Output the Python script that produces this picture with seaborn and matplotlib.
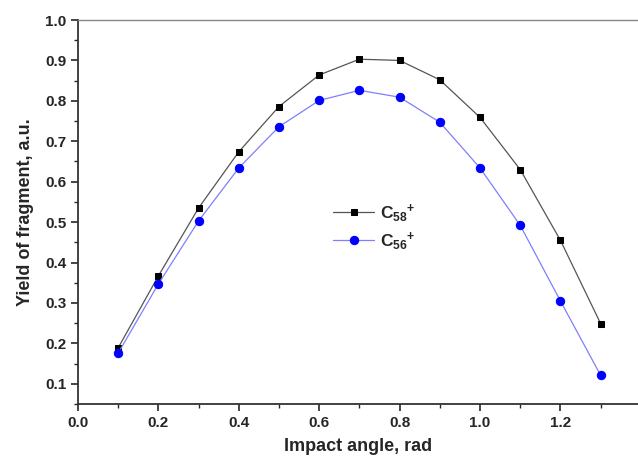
import matplotlib
matplotlib.use("Agg")
import matplotlib.pyplot as plt
import seaborn as sns
import pandas as pd
from matplotlib.ticker import MultipleLocator

angle = [0.1, 0.2, 0.3, 0.4, 0.5, 0.6, 0.7, 0.8, 0.9, 1.0, 1.1, 1.2, 1.3]
c58 = [0.189, 0.367, 0.535, 0.674, 0.786, 0.864, 0.903, 0.900, 0.852, 0.759, 0.630, 0.455, 0.249]
c56 = [0.176, 0.347, 0.503, 0.634, 0.736, 0.801, 0.826, 0.809, 0.747, 0.634, 0.492, 0.305, 0.121]
labels = [r"C$_{58}$$^{+}$", r"C$_{56}$$^{+}$"]

sns.set_style("ticks")
plt.rcParams["font.family"] = ["Liberation Sans", "DejaVu Sans"]
plt.rcParams["mathtext.default"] = "regular"

df = pd.DataFrame({"angle": angle, "c58": c58, "c56": c56})

fig = plt.figure(figsize=(6.38, 4.58), dpi=100)
ax = fig.add_axes([78 / 638, 54 / 458, 560 / 638, 384 / 458])

sns.lineplot(data=df, x="angle", y="c58", ax=ax, color="#555555", lw=0.9,
             marker="s", markersize=5, markerfacecolor="black",
             markeredgecolor="black", label=labels[0])
sns.lineplot(data=df, x="angle", y="c56", ax=ax, color="#7f7fff", lw=0.9,
             marker="o", markersize=6, markerfacecolor="#0000ff",
             markeredgecolor="#0000ff", label=labels[1])

ax.set_xlim(0, 1.393)
ax.set_ylim(0.05, 1.0)
ax.xaxis.set_major_locator(MultipleLocator(0.2))
ax.xaxis.set_minor_locator(MultipleLocator(0.1))
ax.yaxis.set_major_locator(MultipleLocator(0.1))
ax.yaxis.set_minor_locator(MultipleLocator(0.05))
ax.set_yticks([0.1, 0.2, 0.3, 0.4, 0.5, 0.6, 0.7, 0.8, 0.9, 1.0])
ax.tick_params(which="major", length=5, width=1.2, direction="out", labelsize=11)
ax.tick_params(which="minor", length=3, width=1.0, direction="out")
for lab in ax.get_xticklabels() + ax.get_yticklabels():
    lab.set_fontweight("bold")

ax.spines["right"].set_visible(False)
ax.spines["top"].set_color("#888888")
ax.spines["top"].set_linewidth(1.0)
ax.spines["left"].set_linewidth(1.3)
ax.spines["bottom"].set_linewidth(1.3)
ax.spines["left"].set_color("#333333")
ax.spines["bottom"].set_color("#333333")

ax.set_xlabel("Impact angle, rad", fontsize=13, fontweight="bold", labelpad=6)
ax.set_ylabel("Yield of fragment, a.u.", fontsize=13, fontweight="bold", labelpad=8)

leg = ax.legend(loc="center left", bbox_to_anchor=(0.455, 0.462), frameon=False,
                borderpad=0, borderaxespad=0,
                handlelength=2.4, handletextpad=0.3, labelspacing=0.35,
                prop={"size": 12.5, "weight": "bold"})

fig.savefig("out.png", dpi=100)
